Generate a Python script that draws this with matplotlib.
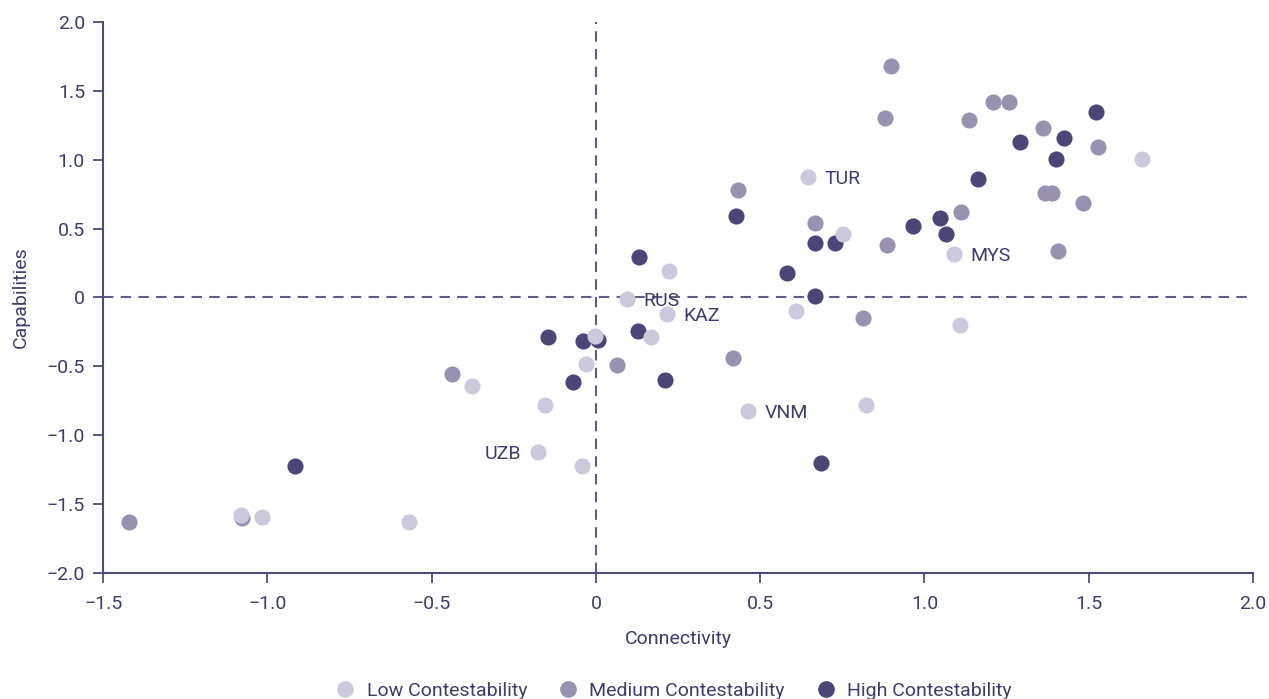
import matplotlib.pyplot as plt
from matplotlib.lines import Line2D

# Connectivity (x) and Capabilities (y) per contestability group
low_x = [1.662, 0.645, 0.752, 0.222, 0.094, 0.216, 0.167, -0.003, -0.030, -0.377,
         -0.155, -0.177, -0.043, 0.609, 1.089, 1.108, 0.463, 0.822, -1.080, -1.016, -0.569]
low_y = [1.005, 0.875, 0.461, 0.192, -0.011, -0.120, -0.287, -0.280, -0.483, -0.642,
         -0.780, -1.120, -1.220, -0.098, 0.316, -0.200, -0.824, -0.780, -1.579, -1.593, -1.630]

med_x = [0.898, 0.879, 1.135, 1.208, 1.257, 1.360, 1.528, 1.366, 1.388, 1.482,
         1.406, 1.111, 0.886, 0.666, 0.432, 0.813, 0.417, 0.064, -0.438, -1.421, -1.077]
med_y = [1.680, 1.302, 1.289, 1.419, 1.419, 1.230, 1.092, 0.758, 0.758, 0.686,
         0.338, 0.620, 0.380, 0.540, 0.780, -0.149, -0.440, -0.490, -0.555, -1.630, -1.600]

high_x = [1.522, 1.424, 1.290, 1.400, 1.162, 0.965, 1.047, 1.065, 0.727, 0.666,
          0.426, 0.581, 0.666, 0.131, 0.128, 0.210, -0.146, -0.040, 0.006, -0.070,
          0.685, -0.916]
high_y = [1.347, 1.158, 1.129, 1.005, 0.860, 0.519, 0.577, 0.461, 0.396, 0.396,
          0.592, 0.178, 0.011, 0.294, -0.243, -0.599, -0.287, -0.316, -0.309, -0.613,
          -1.201, -1.223]

# labelled countries: name, x, y, side
labels = [("TUR", 0.645, 0.875, "right"), ("RUS", 0.094, -0.011, "right"),
          ("KAZ", 0.216, -0.120, "right"), ("MYS", 1.089, 0.316, "right"),
          ("VNM", 0.463, -0.824, "right"), ("UZB", -0.177, -1.120, "left")]

xticks = [-1.5, -1.0, -0.5, 0, 0.5, 1.0, 1.5, 2.0]
xtick_labels = ["\u22121.5", "\u22121.0", "\u22120.5", "0", "0.5", "1.0", "1.5", "2.0"]
yticks = [-2.0, -1.5, -1.0, -0.5, 0, 0.5, 1.0, 1.5, 2.0]
ytick_labels = ["\u22122.0", "\u22121.5", "\u22121.0", "\u22120.5", "0", "0.5", "1.0", "1.5", "2.0"]

c_low = "#cdc9dc"
c_med = "#9891b0"
c_high = "#4a4777"
c_axis = "#4a4c7a"
c_text = "#3c3d6b"

plt.rcParams['font.family'] = ['Roboto', 'DejaVu Sans']

fig = plt.figure(figsize=(12.69, 6.99), dpi=100)
ax = fig.add_axes([0.0812, 0.1803, 0.9062, 0.7882])

# quadrant lines
ax.axhline(0, color="#5d5d85", lw=1.5, ls=(0, (5, 3.5)), zorder=1)
ax.axvline(0, color="#5d5d85", lw=1.5, ls=(0, (5, 3.5)), zorder=1)

ax.scatter(high_x, high_y, s=135, color=c_high, linewidths=0, zorder=3)
ax.scatter(med_x, med_y, s=135, color=c_med, linewidths=0, zorder=2)
ax.scatter(low_x, low_y, s=135, color=c_low, linewidths=0, zorder=4)

for name, x, y, side in labels:
    off = 12 if side == "right" else -12
    ax.annotate(name, (x, y), xytext=(off, -1.5), textcoords="offset points",
                ha="left" if side == "right" else "right", va="center",
                fontsize=14, color=c_text, zorder=5)

ax.set_xlim(-1.5, 2.0)
ax.set_ylim(-2.0, 2.0)
ax.set_xticks(xticks)
ax.set_xticklabels(xtick_labels)
ax.set_yticks(yticks)
ax.set_yticklabels(ytick_labels)
ax.tick_params(direction="out", length=7, width=1.3, color=c_axis,
               labelcolor=c_text, labelsize=14)
ax.tick_params(axis="x", pad=9)
ax.tick_params(axis="y", pad=6)

for side in ["top", "right"]:
    ax.spines[side].set_visible(False)
for side in ["left", "bottom"]:
    ax.spines[side].set_color(c_axis)
    ax.spines[side].set_linewidth(1.5)

ax.set_xlabel("Connectivity", fontsize=14, color=c_text, labelpad=12)
ax.set_ylabel("Capabilities", fontsize=14, color=c_text, labelpad=12)

handles = [Line2D([], [], marker="o", ls="", markersize=11, color=c)
           for c in (c_low, c_med, c_high)]
fig.legend(handles, ["Low Contestability", "Medium Contestability", "High Contestability"],
           loc="center", bbox_to_anchor=(0.527, 0.012), ncol=3, frameon=False,
           fontsize=14, labelcolor=c_text, handletextpad=0.1, columnspacing=1.1)

fig.savefig("out.png", dpi=100)
